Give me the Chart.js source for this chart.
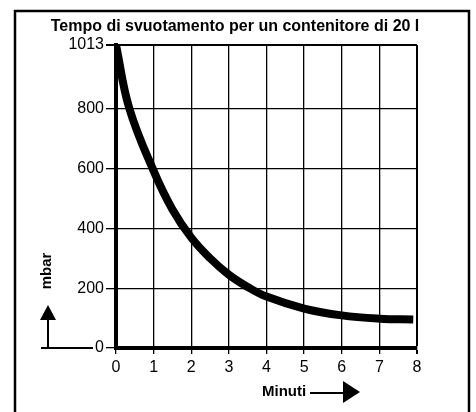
<!DOCTYPE html>
<html>
<head>
<meta charset="utf-8">
<script src="https://cdn.jsdelivr.net/npm/chart.js@4/dist/chart.umd.min.js"></script>
<style>
  html, body { margin: 0; padding: 0; background: #fff; }
  #wrap { width: 476px; height: 412px; }
</style>
</head>
<body>
<div id="wrap"><canvas id="chart" width="476" height="412"></canvas></div>
<script>
// dati
const minuti = [0, 0.35, 1, 1.5, 2, 2.5, 3, 3.5, 4, 5, 6, 7, 7.9];
const pressione = [1013, 803, 592, 463, 369, 300, 245, 204, 172, 132, 109, 98, 95];
const yTicks = [0, 200, 400, 600, 800, 1013];

const titolo = "Tempo di svuotamento per un contenitore di 20 l";
const FONT = "'Liberation Sans', Arial, sans-serif";

// ======================
// TITOLO, CORNICE, FRECCE
// ======================
const decorazioni = {
  id: "decorazioni",
  afterDraw(chart) {
    const ctx = chart.ctx;
    const area = chart.chartArea;
    ctx.save();

    // cornice esterna
    ctx.strokeStyle = "#000";
    ctx.lineWidth = 2.5;
    ctx.strokeRect(15, 11, 454, 410);

    ctx.fillStyle = "#000";

    // titolo
    ctx.font = "bold 16px " + FONT;
    ctx.textAlign = "center";
    ctx.textBaseline = "middle";
    ctx.fillText(titolo, 235, 27);

    ctx.font = "bold 15px " + FONT;

    // mbar (ruotato)
    ctx.save();
    ctx.translate(47, 271);
    ctx.rotate(-Math.PI / 2);
    ctx.textAlign = "center";
    ctx.textBaseline = "middle";
    ctx.fillText("mbar", 0, 0);
    ctx.restore();

    // freccia verso l'alto + linea base
    ctx.lineWidth = 2;
    ctx.beginPath();
    ctx.moveTo(48, area.bottom);
    ctx.lineTo(48, 318);
    ctx.moveTo(41, area.bottom);
    ctx.lineTo(93, area.bottom);
    ctx.stroke();
    ctx.beginPath();
    ctx.moveTo(48, 305);
    ctx.lineTo(40, 320);
    ctx.lineTo(56, 320);
    ctx.closePath();
    ctx.fill();

    // Minuti + freccia
    ctx.textAlign = "left";
    ctx.textBaseline = "middle";
    ctx.fillText("Minuti", 262, 392);
    ctx.beginPath();
    ctx.moveTo(310, 393);
    ctx.lineTo(344, 393);
    ctx.stroke();
    ctx.beginPath();
    ctx.moveTo(360, 392);
    ctx.lineTo(343, 381);
    ctx.lineTo(343, 403);
    ctx.closePath();
    ctx.fill();

    ctx.restore();
  }
};

document.addEventListener("DOMContentLoaded", () => {
  const ctx = document.getElementById("chart");

  new Chart(ctx, {
    type: "scatter",
    data: {
      datasets: [{
        data: minuti.map((m, i) => ({ x: m, y: pressione[i] })),
        showLine: true,
        borderColor: "#000",
        borderWidth: 8,
        pointRadius: 0,
        tension: 0.4,
        borderCapStyle: "butt",
        clip: 0
      }]
    },
    options: {
      responsive: false,
      animation: false,
      layout: { padding: { left: 0, right: 59, top: 45, bottom: 0 } },
      scales: {
        x: {
          type: "linear",
          min: 0,
          max: 8,
          afterFit(scale) { scale.height = 64; },
          ticks: {
            stepSize: 1,
            color: "#000",
            padding: 4,
            font: { family: FONT, size: 16 }
          },
          grid: {
            color: "#000",
            lineWidth: c => (c.index === 8 ? 2 : 1.3),
            tickLength: 6
          },
          border: { display: true, color: "#000", width: 4 }
        },
        y: {
          type: "linear",
          min: 0,
          max: 1013,
          afterFit(scale) { scale.width = 116; },
          afterBuildTicks(scale) {
            scale.ticks = yTicks.map(v => ({ value: v }));
          },
          ticks: {
            color: "#000",
            padding: 2,
            font: { family: FONT, size: 16 },
            callback: v => String(v)
          },
          grid: {
            color: "#000",
            lineWidth: c => (c.tick && c.tick.value === 1013 ? 2 : 1.3),
            tickLength: 10
          },
          border: { display: true, color: "#000", width: 4 }
        }
      },
      plugins: {
        legend: { display: false },
        tooltip: { enabled: false },
        title: { display: false }
      }
    },
    plugins: [decorazioni]
  });
});
</script>
</body>
</html>
